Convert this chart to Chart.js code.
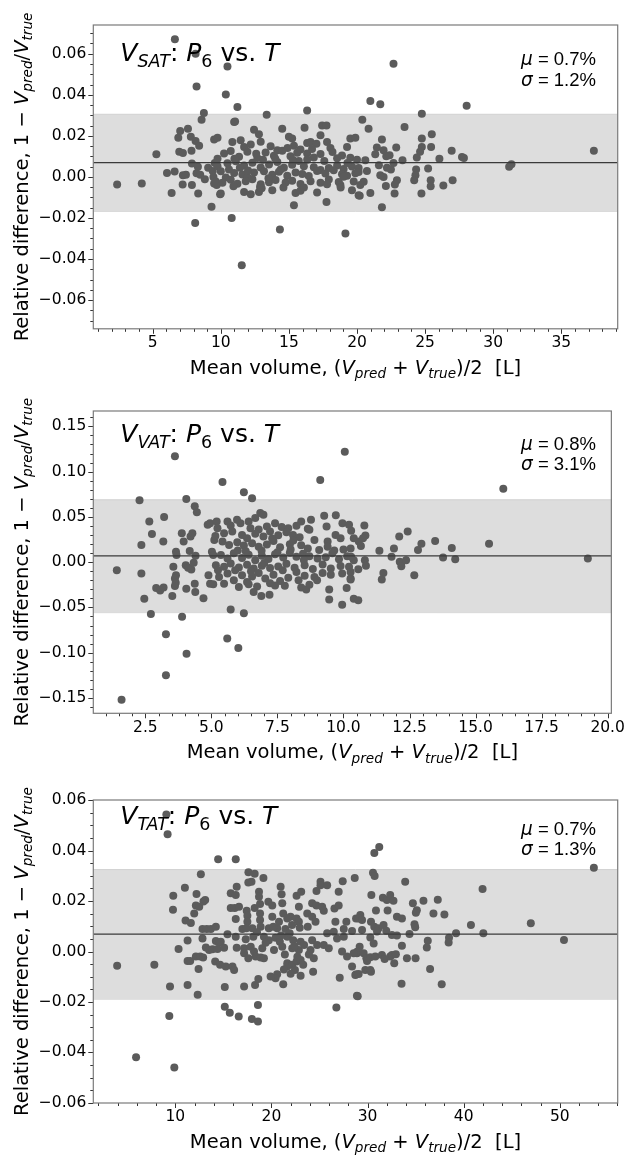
<!DOCTYPE html>
<html>
<head>
<meta charset="utf-8">
<script src="https://cdn.jsdelivr.net/npm/chart.js@4.4.1/dist/chart.umd.min.js"></script>
<style>
  html, body { margin: 0; padding: 0; background: #fff; }
  #wrap { position: relative; width: 630px; height: 1159px; }
  .panel { position: absolute; left: 0; width: 630px; }
</style>
</head>
<body>
<div id="wrap">
  <div class="panel" style="top:0px;height:390px"><canvas id="c1" width="630" height="390"></canvas></div>
  <div class="panel" style="top:390px;height:385px"><canvas id="c2" width="630" height="385"></canvas></div>
  <div class="panel" style="top:775px;height:384px"><canvas id="c3" width="630" height="384"></canvas></div>
</div>
<script>
// ---- data: [mean volume (L), relative difference] ----
const satPoints = [
  [2.39,-0.0037],[4.2,-0.0032],[5.27,0.011],[6.05,0.0019],[6.39,-0.0078],[6.63,0.067],[6.61,0.0026],
  [6.88,0.0191],[7.02,0.0224],[6.95,0.0122],[7.22,0.0117],[7.22,0.0008],[7.2,-0.0037],[7.44,0.001],
  [7.59,0.0235],[7.8,0.0195],[7.85,0.0127],[7.88,0.0065],[7.88,-0.004],[8.15,0.060],[8.22,0.0441],
  [8.12,-0.0224],[8.15,0.0175],[8.41,0.0152],[8.22,0.0018],[8.34,-0.0081],[8.32,0.0049],[8.59,0.0279],
  [8.76,0.0311],[8.49,0.0011],[8.83,-0.0011],[9.07,0.0045],[9.32,-0.0146],[9.41,0.0029],[9.51,0.0182],
  [9.76,0.0191],[9.56,0.0068],[9.76,0.0088],[9.46,0.0],[9.51,-0.0032],[9.7,-0.004],[9.95,-0.0084],
  [10.49,0.0538],[10.37,0.0402],[11.22,0.034],[13.37,0.0303],[16.34,0.0324],[10.8,-0.020],[14.34,-0.0256],
  [19.15,-0.0276],[11.54,-0.043],[10.98,0.0268],[11.05,0.027],[10.85,0.017],[11.46,0.0178],[12.44,0.023],
  [12.8,0.0208],[14.51,0.0235],[15.0,0.0195],[15.24,0.0187],[16.15,0.024],[16.34,0.0165],[16.59,0.017],
  [17.02,0.0162],[17.44,0.0251],[17.76,0.0251],[17.32,0.0203],[17.8,0.017],[19.27,0.0146],[19.51,0.0187],
  [19.88,0.0191],
  [11.71,0.0146],[12.2,0.0158],[12.93,0.0171],[13.66,0.0149],[14.15,0.013],[15.37,0.0152],[15.85,0.0134],
  [16.34,0.0114],[18.05,0.0141],[18.9,0.0104],[19.51,0.0093],
  [10.24,0.0114],[10.73,0.0126],[11.34,0.0098],[11.95,0.0123],[12.68,0.0092],[13.29,0.0119],[13.9,0.0103],
  [14.51,0.0127],[15.12,0.0101],[15.61,0.0118],[16.83,0.0094],[17.32,0.0112],[18.54,0.0091],[20.0,0.0084],
  [9.76,0.0052],[10.49,0.0066],[11.1,0.0076],[11.71,0.0055],[12.32,0.0069],[12.93,0.0046],[13.54,0.0061],
  [14.15,0.0072],[14.63,0.0044],[15.24,0.0059],[15.73,0.0077],[16.34,0.0083],[16.83,0.0047],[17.32,0.0034],
  [17.93,0.0043],[18.54,0.0056],[19.02,0.0038],[19.63,0.0051],[20.12,0.0043],
  [10.0,0.0027],[10.37,-0.0003],[10.98,0.0019],[11.59,0.0012],[11.95,-0.0002],[12.44,0.0021],[13.17,0.0028],
  [13.78,0.0011],[14.27,0.0025],[14.88,0.0006],[15.49,0.0022],[15.98,0.0014],[16.46,0.0004],[17.07,0.0029],
  [17.68,0.0017],[18.29,0.0033],[18.9,0.0013],[19.27,0.0005],[19.88,0.0018],
  [9.63,-0.0022],[10.12,-0.0028],[10.73,-0.0014],[11.22,-0.0033],[11.83,-0.0021],[12.32,-0.0012],[12.93,-0.0036],
  [13.54,-0.0026],[14.02,-0.0015],[14.76,-0.0027],[15.24,-0.0019],[15.85,-0.0034],[16.59,-0.0021],[17.32,-0.0028],
  [17.93,-0.0013],[18.66,-0.0025],[19.02,0.0001],[19.76,-0.0023],
  [10.0,-0.0081],[10.93,-0.0045],[11.71,-0.0073],[12.2,-0.0084],[12.8,-0.0073],[12.88,-0.0049],[13.78,-0.0065],
  [15.37,-0.0138],[15.49,-0.0078],[15.85,-0.0068],[17.07,-0.0076],[17.8,-0.0036],[17.76,-0.0122],[18.78,-0.004],
  [19.63,-0.0065],[20.12,-0.0089],
  [11.4,0.0045],[12.0,0.0031],[12.6,0.0113],[13.1,0.0084],[13.5,-0.0006],[14.0,0.0088],[14.4,0.0036],
  [14.9,0.0141],[15.3,0.0082],[16.1,0.0052],[16.7,0.0136],[11.0,0.0089],[10.6,0.0036],[13.0,-0.0055],
  [14.6,-0.0052],[16.1,-0.0052],[18.2,0.0121],[19.3,0.0068],[17.6,0.0078],[18.8,-0.0052],
  [22.68,0.0551],[20.98,0.037],[21.71,0.0354],[28.05,0.0347],[24.76,0.0308],[20.39,0.0279],[20.85,0.0235],
  [23.49,0.0243],[25.49,0.0208],[24.76,0.0187],[21.83,0.0182],[21.46,0.0143],[21.95,0.013],[22.88,0.0143],
  [24.76,0.0146],[24.63,0.0122],[25.44,0.0146],[26.95,0.0127],[21.34,0.011],[22.15,0.01],[22.39,0.0105],
  [20.61,0.0081],[23.34,0.0081],[22.68,0.0068],[24.39,0.0094],[26.05,0.0089],[27.71,0.0097],[27.85,0.0092],
  [21.61,0.0057],[22.2,0.0045],[22.49,0.0036],[20.12,0.0024],[20.73,0.0029],[24.34,0.0036],[25.22,0.0041],
  [21.71,0.0008],[21.95,0.0],[24.29,0.0008],[20.49,-0.0024],[20.24,-0.004],[22.93,-0.0016],[24.2,-0.0016],
  [25.41,-0.0016],[27.02,-0.0016],[22.12,-0.0044],[22.78,-0.0037],[25.41,-0.0045],[26.34,-0.0042],
  [20.2,-0.0092],[20.98,-0.0078],[22.76,-0.0081],[24.73,-0.0081],[21.83,-0.0148],
  [31.17,0.0049],[31.34,0.0062],[37.39,0.0127]
];

const vatPoints = [
  [1.42,-0.0089],[1.6,-0.152],[2.28,0.0684],[2.35,0.019],[2.35,-0.0126],[2.46,-0.0405],[2.65,0.045],
  [2.71,-0.0572],[2.75,0.0312],[2.91,-0.0286],[3.06,-0.0312],[3.21,0.0498],[3.19,-0.028],[3.18,0.0227],
  [3.28,-0.0796],[3.28,-0.125],[3.52,-0.0375],[3.62,0.117],[3.56,-0.0052],[3.66,0.0115],[3.68,0.0078],
  [3.66,-0.0145],[3.62,-0.0182],[3.65,-0.0227],[3.62,-0.0264],[3.88,0.032],[3.89,-0.0602],[3.95,0.0227],
  [4.05,0.0699],[4.05,-0.0294],[4.06,-0.1011],[4.03,-0.0033],[4.12,-0.0063],[4.21,0.0283],[4.28,0.032],
  [4.24,-0.0082],[4.18,0.0123],[4.33,-0.0007],[4.37,-0.0238],[4.39,-0.0331],[4.37,0.0617],[4.45,0.055],
  [4.4,0.0071],[4.7,-0.0398],[4.86,0.0413],[4.95,0.0431],[4.89,-0.0145],[4.95,-0.0238],[5.07,-0.0245],
  [5.02,0.0115],[5.07,0.0078],[5.11,0.0245],[5.15,0.029],[5.2,0.045],[5.23,0.0375],[5.25,-0.0089],
  [5.42,0.0885],[9.12,0.0907],[10.05,0.1219],[6.23,0.0773],[6.54,0.0706],[5.73,-0.0524],[6.23,-0.0565],
  [5.6,-0.0844],[6.02,-0.0948],[6.85,0.0543],[6.97,0.0524],[9.27,0.0513],[9.71,0.0517],[8.77,0.0468],
  [9.36,0.0394],[9.96,0.0431],[10.21,0.0413],
  [5.61,0.045],[5.73,0.0405],[5.97,0.0468],[6.1,0.0431],[6.41,0.045],[6.66,0.0487],[6.48,0.0375],
  [6.79,0.0362],[7.1,0.0394],[7.41,0.0431],[7.66,0.0388],[7.91,0.0375],[8.22,0.0401],[8.40,0.045],[8.65,0.0368],
  [5.48,0.032],[5.79,0.0338],[6.16,0.0301],[6.35,0.0264],[6.66,0.0315],[6.97,0.0283],[7.22,0.0338],
  [7.53,0.0296],[7.84,0.0331],[8.09,0.0301],[8.34,0.0276],[8.71,0.0357],[8.90,0.0245],[9.40,0.0227],
  [9.89,0.0264],[10.39,0.0264],
  [5.42,0.0227],[5.67,0.019],[5.98,0.0219],[6.23,0.0184],[6.54,0.0208],[6.79,0.0171],[7.1,0.0196],
  [7.35,0.0233],[7.6,0.0165],[7.97,0.0197],[8.40,0.0186],[8.65,0.0152],[9.08,0.0134],[9.40,0.0171],
  [9.65,0.0128],[10.0,0.0141],[10.27,0.0152],
  [5.36,0.0078],[5.61,0.0041],[5.85,0.0097],[6.16,0.0047],[6.41,0.0083],[6.66,0.0022],[6.91,0.0071],
  [7.16,0.0036],[7.41,0.0088],[7.72,0.0052],[7.97,0.0103],[8.22,0.0059],[8.47,0.0092],[8.71,0.0064],
  [9.02,0.0041],[9.33,0.0055],[9.58,0.0097],[9.83,0.0033],[10.14,0.0066],[10.39,0.0022],
  [5.17,-0.0033],[5.48,-0.0052],[5.73,-0.0015],[6.04,-0.0058],[6.35,-0.0028],[6.6,-0.0071],[6.91,-0.0039],
  [7.22,-0.0066],[7.53,-0.0047],[7.84,-0.0019],[8.15,-0.0061],[8.53,-0.0033],[8.84,-0.0075],[9.21,-0.0026],
  [9.52,-0.0071],[9.89,-0.0042],[10.21,-0.0052],
  [5.29,-0.0164],[5.61,-0.0126],[5.85,-0.0201],[6.16,-0.0145],[6.35,-0.0219],[6.54,-0.0158],[6.79,-0.0119],
  [7.04,-0.0182],[7.35,-0.0139],[7.6,-0.0207],[7.91,-0.0171],[8.22,-0.0108],[8.53,-0.0151],[8.90,-0.0164],
  [9.21,-0.0121],[9.52,-0.0139],[9.95,-0.0126],[10.27,-0.0182],
  [5.48,-0.0238],[6.04,-0.0275],[6.41,-0.0244],[6.73,-0.0268],[7.22,-0.0232],[7.41,-0.0257],[7.78,-0.0262],
  [8.40,-0.0281],[8.59,-0.0301],[8.71,-0.0249],[9.46,-0.0301],[10.12,-0.0286],[6.6,-0.0331],[6.89,-0.0375],
  [7.2,-0.0361],[9.46,-0.0413],[9.95,-0.0472],[10.39,-0.0405],
  [6.3,0.012],[6.9,0.0125],[7.5,0.011],[8.0,0.014],[8.5,0.0025],[7.0,-0.001],[7.7,-0.009],[8.3,-0.02],
  [6.5,-0.01],[7.3,0.026],[8.1,0.024],[6.0,0.013],[5.9,-0.009],[9.0,-0.02],[9.7,0.03],
  [10.29,0.0346],[10.79,0.0405],[10.83,0.0294],[10.74,0.0264],[10.58,0.0227],[10.66,0.0178],[11.36,0.0126],
  [11.91,0.0152],[12.11,0.0283],[12.43,0.0338],[12.82,0.0134],[12.95,0.0204],[13.47,0.0234],[14.1,0.0156],
  [15.51,0.0204],[10.29,0.0059],[10.81,0.0022],[10.85,-0.0041],[11.82,0.0059],[12.13,0.0004],[12.19,-0.0045],
  [12.37,0.0022],[13.77,0.0052],[14.23,0.0033],[10.27,-0.0108],[10.56,-0.0078],[10.27,-0.0193],[11.51,-0.0119],
  [11.45,-0.0193],[12.68,-0.0145],[10.56,-0.042],
  [16.05,0.0811],[19.25,0.0041]
];

const tatPoints = [
  [3.95,-0.0057],[5.92,-0.042],[7.82,-0.0053],[9.07,0.0543],[9.2,0.0465],[9.38,-0.0256],[9.45,-0.0139],
  [9.79,0.0221],[9.76,0.0166],[9.9,-0.046],[10.34,0.001],[11.0,0.0253],[11.07,0.0123],[11.28,0.0044],
  [11.28,-0.0038],[11.28,-0.0133],[11.55,-0.0038],[11.62,0.0113],[11.97,0.0151],[12.21,0.0228],[12.14,0.0182],
  [12.49,0.0178],[12.66,0.0306],[12.14,-0.002],[12.42,-0.0069],[12.33,-0.0172],[12.59,-0.002],[12.83,0.0052],
  [12.93,0.0198],[13.11,0.0204],[12.83,0.0089],[13.28,0.0089],[13.7,0.0089],[14.22,0.0098],[13.18,0.0016],
  [13.52,0.0006],[13.87,0.0009],[14.39,0.001],[14.22,0.0042],[14.56,0.0036],[14.15,-0.004],[12.9,-0.0024],
  [14.46,0.0366],[14.66,-0.0053],
  [16.29,0.0366],[17.61,0.0314],[18.26,0.0308],[17.93,0.0277],[17.6,0.0274],[19.17,0.0292],[16.39,0.0257],
  [15.77,0.0231],[16.29,0.0224],[18.71,0.0237],[18.71,0.0217],[20.96,0.0257],[21.06,0.0227],[22.62,0.0221],
  [23.1,0.0237],[25.11,0.0277],[25.11,0.0263],[25.8,0.0263],[24.69,0.024],[27.42,0.0279],[28.67,0.0292],
  [27.0,0.0237],[15.77,0.0173],[16.19,0.0173],[16.63,0.0178],[16.29,0.0129],[17.43,0.0162],[17.5,0.0142],
  [18.26,0.0173],[18.82,0.0188],[19.68,0.0197],[20.09,0.0182],[21.13,0.0191],[21.23,0.0151],[21.99,0.0138],
  [22.86,0.0178],[24.24,0.0191],[24.69,0.0182],[25.28,0.0178],[25.45,0.0162],[26.56,0.0171],[27.0,0.0182],
  [17.5,0.0118],[18.82,0.0151],[18.82,0.0125],[20.09,0.0138],[20.79,0.0118],[21.65,0.0131],[22.62,0.0131],
  [22.86,0.0118],[23.73,0.0151],[24.24,0.0138],[24.59,0.0118],[26.66,0.0118],[27.8,0.0118],[28.81,0.0131],
  [16.98,0.0089],[18.02,0.0092],[18.88,0.0098],[19.73,0.0092],[20.6,0.0092],[21.46,0.0089],[22.15,0.0105],
  [22.95,0.0094],[23.78,0.0098],[25.8,0.0072],[26.49,0.0078],[27.53,0.0089],[28.39,0.0081],
  [14.73,0.0039],[15.43,0.0068],[16.29,0.0059],[16.39,0.0015],[17.33,0.0049],[18.12,0.0059],[19.22,0.0059],
  [19.73,0.0045],[20.43,0.0055],[20.88,0.0039],[21.65,0.0059],[22.27,0.0045],[23.04,0.0039],[24.24,0.0045],
  [25.45,0.0026],[26.83,0.0052],[27.53,0.0059],
  [15.08,0.0015],[17.16,0.0013],[17.85,0.0019],[18.19,0.0],[17.16,-0.0007],[19.05,0.0013],[20.27,0.0006],
  [21.13,0.0019],[22.17,0.0013],[22.86,0.0006],[24.07,0.0006],[24.41,-0.0027],[24.76,0.0026],[25.97,0.0013],
  [27.35,0.0],[27.87,-0.002],[28.9,-0.0007],
  [15.25,-0.006],[15.95,-0.006],[16.12,-0.0073],[17.6,-0.0027],[18.36,-0.002],[18.88,-0.0024],[19.22,-0.0027],
  [21.65,-0.0047],[21.65,-0.006],[22.17,-0.0053],[22.62,-0.004],[23.04,-0.0034],[23.31,-0.0053],[20.6,-0.009],
  [20.43,-0.0106],[19.92,-0.0099],[22.45,-0.0073],[23.04,-0.0096],[24.34,-0.008],[27.11,-0.0104],[28.39,-0.006],
  [28.84,-0.009],[15.15,-0.0141],[17.16,-0.0139],[18.3,-0.0133],[18.64,-0.0109],[21.23,-0.013],[28.9,-0.0176],
  [15.15,-0.0219],[15.67,-0.0243],[16.6,-0.0258],[17.97,-0.0268],[18.6,-0.0278],[18.6,-0.0212],[26.76,-0.0222],
  [21.9,0.0072],[22.4,0.0021],[21.4,-0.0012],[22.7,-0.0021],[23.4,0.0026],[21.0,0.0063],[20.2,0.0098],
  [19.4,0.0035],[18.5,0.0076],[17.4,0.0092],[23.9,-0.0012],[22.0,-0.0088],[21.3,-0.0071],
  [31.22,0.0415],[30.71,0.0391],[30.57,0.0312],[30.74,0.03],[33.92,0.0277],[41.97,0.0248],[30.4,0.0224],
  [31.6,0.0213],[32.02,0.0204],[32.36,0.0224],[32.7,0.0201],[34.72,0.0191],[35.82,0.0201],[37.31,0.0205],
  [30.88,0.0163],[32.09,0.0163],[35.13,0.0164],[35.03,0.0154],[36.86,0.0151],[38.0,0.0147],[29.25,0.0145],
  [29.08,0.0131],[29.43,0.0125],[30.36,0.0118],[33.06,0.0138],[33.58,0.0131],[31.67,0.0105],[30.7,0.0098],
  [31.15,0.0092],[34.89,0.0108],[34.96,0.0096],[40.76,0.0105],[29.43,0.0085],[30.99,0.0079],[31.95,0.0082],
  [32.54,0.0065],[33.06,0.0063],[34.37,0.0069],[39.21,0.0072],[42.05,0.0072],[30.29,0.0056],[30.64,0.0032],
  [36.27,0.0043],[38.48,0.0055],[38.44,0.0036],[36.17,0.0016],[33.58,0.0023],[29.18,0.0019],[28.91,-0.0001],
  [28.56,-0.0007],[29.6,-0.0007],[29.88,-0.0027],[30.29,-0.0023],[30.81,-0.002],[31.5,-0.0014],[31.78,-0.003],
  [32.36,-0.002],[32.54,-0.0014],[32.95,-0.0011],[32.78,-0.0047],[34.1,-0.0027],[35.0,-0.0027],[29.95,-0.0038],
  [29.77,-0.0073],[30.29,-0.0073],[30.36,-0.008],[28.73,-0.0093],[29.08,-0.0089],[36.51,-0.0069],[33.54,-0.0128],
  [37.72,-0.013],[28.98,-0.0178],
  [53.55,0.0332],[46.99,0.0112],[50.44,0.0046]
];

// mean line and limits-of-agreement band [lower, upper]
const satMean = 0.0070, satBand = [-0.0168, 0.0305];
const vatMean = 0.0070, vatBand = [-0.0558, 0.0689];
const tatMean = 0.0069, tatBand = [-0.0189, 0.0325];

// axis ranges and tick labels
const satXRange = [0.64, 39.14], satYRange = [-0.074, 0.074];
const vatXRange = [0.53, 20.14], vatYRange = [-0.167, 0.167];
const tatXRange = [1.47, 56.03], tatYRange = [-0.0601, 0.0601];
const satXTicks = [5, 10, 15, 20, 25, 30, 35];
const satYTicks = [-0.06, -0.04, -0.02, 0, 0.02, 0.04, 0.06];
const vatXTicks = [2.5, 5, 7.5, 10, 12.5, 15, 17.5, 20];
const vatYTicks = [-0.15, -0.1, -0.05, 0, 0.05, 0.1, 0.15];
const tatXTicks = [10, 20, 30, 40, 50];
const tatYTicks = [-0.06, -0.04, -0.02, 0, 0.02, 0.04, 0.06];
const satStats = ['0.7%', '1.2%'];
const vatStats = ['0.8%', '3.1%'];
const tatStats = ['0.7%', '1.3%'];

const DV = "'DejaVu Sans', sans-serif";
const LS = "'Liberation Sans', Arial, sans-serif";

// text pieces: N normal, I italic, IS italic subscript, NS normal subscript
const N = t => ({ t }), I = t => ({ t, it: true });
const IS = t => ({ t, it: true, sub: true }), NS = t => ({ t, sub: true });

function richText(ctx, segs, x, y, size, family, align) {
  const parts = segs.map(s => {
    const sz = s.sub ? size * 0.7 : size;
    const font = (s.it ? 'italic ' : '') + sz + 'px ' + (s.f || family);
    ctx.font = font;
    return { t: s.t, font, w: ctx.measureText(s.t).width, dy: s.sub ? size * 0.22 : 0 };
  });
  const total = parts.reduce((a, p) => a + p.w, 0);
  let cx = align === 'center' ? x - total / 2 : align === 'right' ? x - total : x;
  ctx.textAlign = 'left';
  ctx.textBaseline = 'alphabetic';
  parts.forEach(p => { ctx.font = p.font; ctx.fillText(p.t, cx, y + p.dy); cx += p.w; });
}

function fmt(v, d) {
  const s = Math.abs(v) < 1e-12 ? (0).toFixed(d) : v.toFixed(d);
  return s.replace('-', '\u2212');
}

const xLabel = [N('Mean volume, ('), I('V'), IS('pred'), N(' + '), I('V'), IS('true'), N(')/2  [L]')];
const yLabel = [N('Relative difference, 1 \u2212 '), I('V'), IS('pred'), N('/'), I('V'), IS('true')];

// decorations: ticks, frame, panel title, stats and axis titles
const decor = {
  id: 'decor',
  afterDraw(chart, args, o) {
    const ctx = chart.ctx, a = chart.chartArea;
    const xs = chart.scales.x, ys = chart.scales.y;
    ctx.save();
    ctx.strokeStyle = '#333';
    ctx.lineWidth = 1;
    const line = (x1, y1, x2, y2) => { ctx.beginPath(); ctx.moveTo(x1, y1); ctx.lineTo(x2, y2); ctx.stroke(); };
    const isMajor = (arr, v, step) => arr.some(t => Math.abs(t - v) < step * 1e-3);
    for (let i = Math.ceil(xs.min / o.xMinor); i * o.xMinor <= xs.max + 1e-9; i++) {
      const v = i * o.xMinor;
      const px = Math.round(xs.getPixelForValue(v)) + 0.5;
      line(px, a.bottom, px, a.bottom + (isMajor(o.xTicks, v, o.xMinor) ? 5 : 3));
    }
    for (let i = Math.ceil(ys.min / o.yMinor - 1e-6); i * o.yMinor <= ys.max + 1e-9; i++) {
      const v = i * o.yMinor;
      const py = Math.round(ys.getPixelForValue(v)) + 0.5;
      line(a.left, py, a.left - (isMajor(o.yTicks, v, o.yMinor) ? 5 : 3), py);
    }
    ctx.strokeStyle = '#7a7a7a';
    ctx.lineWidth = 1.2;
    ctx.strokeRect(a.left, a.top, a.right - a.left, a.bottom - a.top);

    ctx.fillStyle = '#000';
    richText(ctx, o.title, a.left + 27, a.top + o.titleDy, 25, DV, 'left');
    richText(ctx, [{ t: '\u03bc', it: true, f: DV }, N(' = ' + o.stats[0])], 596, a.top + o.statDy, 18.5, LS, 'right');
    richText(ctx, [{ t: '\u03c3', it: true, f: DV }, N(' = ' + o.stats[1])], 596, a.top + o.statDy + 20.5, 18.5, LS, 'right');

    richText(ctx, xLabel, (a.left + a.right) / 2, a.bottom + 45, 19.5, DV, 'center');
    ctx.save();
    ctx.translate(28, (a.top + a.bottom) / 2);
    ctx.rotate(-Math.PI / 2);
    richText(ctx, yLabel, 0, 0, 19.5, DV, 'center');
    ctx.restore();
    ctx.restore();
  }
};

function makePanel(p) {
  const xmin = p.xRange[0], xmax = p.xRange[1];
  const flat = v => [{ x: xmin, y: v }, { x: xmax, y: v }];
  new Chart(document.getElementById(p.id), {
    type: 'scatter',
    data: {
      datasets: [
        { type: 'line', data: flat(p.mean), borderColor: '#3a3a3a', borderWidth: 1.3, pointRadius: 0, order: 0 },
        { type: 'scatter', data: p.points.map(d => ({ x: d[0], y: d[1] })), backgroundColor: '#5b5b5b',
          borderWidth: 0, pointRadius: 4, order: 1 },
        { type: 'line', data: flat(p.band[1]), borderColor: '#d2d2d2', borderWidth: 1, pointRadius: 0,
          fill: '+1', backgroundColor: '#dddddd', order: 2 },
        { type: 'line', data: flat(p.band[0]), borderColor: '#d2d2d2', borderWidth: 1, pointRadius: 0, order: 3 }
      ]
    },
    options: {
      responsive: false,
      animation: false,
      events: [],
      layout: { padding: { top: p.padTop, right: 12.3, left: 0, bottom: 0 } },
      scales: {
        x: {
          type: 'linear', min: xmin, max: xmax,
          afterBuildTicks: s => { s.ticks = p.xTicks.map(v => ({ value: v })); },
          afterFit: s => { s.height = p.axisH; },
          grid: { display: false, drawTicks: false },
          border: { display: false },
          ticks: { autoSkip: false, maxRotation: 0, minRotation: 0, padding: 5, color: '#000',
                   font: { family: 'DejaVu Sans', size: 15.5 }, callback: v => fmt(v, p.xDec) }
        },
        y: {
          type: 'linear', min: p.yRange[0], max: p.yRange[1],
          afterBuildTicks: s => { s.ticks = p.yTicks.map(v => ({ value: v })); },
          afterFit: s => { s.width = 93.3; },
          grid: { display: false, drawTicks: false },
          border: { display: false },
          ticks: { autoSkip: false, padding: 7, color: '#000',
                   font: { family: 'DejaVu Sans', size: 15.5 }, callback: v => fmt(v, 2) }
        }
      },
      plugins: {
        legend: { display: false },
        tooltip: { enabled: false },
        decor: { title: p.title, titleDy: p.titleDy, stats: p.stats, statDy: p.statDy,
                 xTicks: p.xTicks, yTicks: p.yTicks, xMinor: p.xMinor, yMinor: p.yMinor }
      }
    },
    plugins: [decor]
  });
}

makePanel({ id: 'c1', points: satPoints, mean: satMean, band: satBand, xRange: satXRange, yRange: satYRange,
  xTicks: satXTicks, yTicks: satYTicks, xMinor: 1, yMinor: 0.005, xDec: 0, padTop: 25, axisH: 61.2,
  title: [I('V'), IS('SAT'), N(': '), I('P'), NS('6'), N(' vs. '), I('T')], titleDy: 36, stats: satStats, statDy: 40 });

makePanel({ id: 'c2', points: vatPoints, mean: vatMean, band: vatBand, xRange: vatXRange, yRange: vatYRange,
  xTicks: vatXTicks, yTicks: vatYTicks, xMinor: 0.5, yMinor: 0.01, xDec: 1, padTop: 21, axisH: 61.7,
  title: [I('V'), IS('VAT'), N(': '), I('P'), NS('6'), N(' vs. '), I('T')], titleDy: 31, stats: vatStats, statDy: 38.5 });

makePanel({ id: 'c3', points: tatPoints, mean: tatMean, band: tatBand, xRange: tatXRange, yRange: tatYRange,
  xTicks: tatXTicks, yTicks: tatYTicks, xMinor: 2, yMinor: 0.005, xDec: 0, padTop: 25, axisH: 56,
  title: [I('V'), IS('TAT'), N(': '), I('P'), NS('6'), N(' vs. '), I('T')], titleDy: 24, stats: tatStats, statDy: 34.5 });
</script>
</body>
</html>
